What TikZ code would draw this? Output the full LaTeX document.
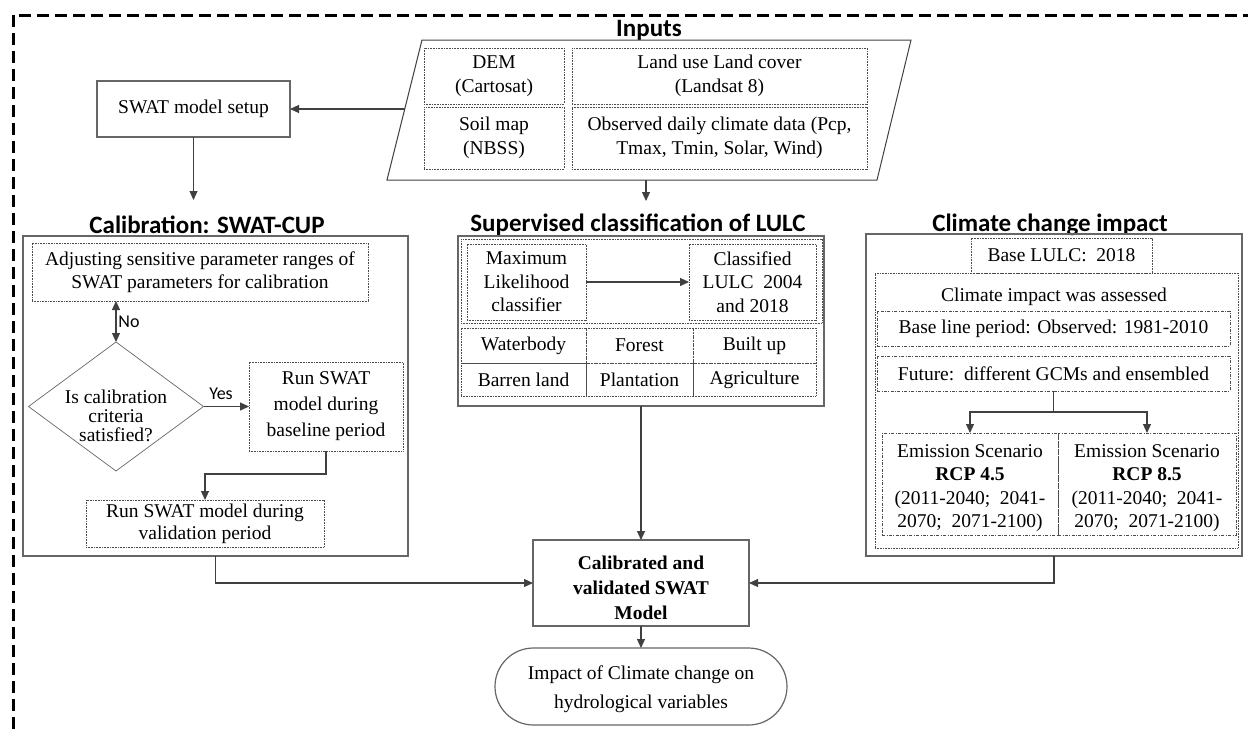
\documentclass[tikz,border=0pt]{standalone}
\usepackage{fontspec}
\setmainfont{Liberation Serif}
\newfontfamily\calfont{Carlito}
\usetikzlibrary{arrows.meta,shapes.geometric,shapes.misc,calc}
\begin{document}
\begin{tikzpicture}[x=1pt,y=-1pt,
 every node/.style={inner sep=0pt, outer sep=0pt},
 txt/.style={font=\fontsize{19.5}{23.5}\selectfont, align=center, text=black},
 obox/.style={draw=black!60, line width=1.2pt, txt},
 dbox/.style={draw=black!70, dash pattern=on 0.8pt off 0.8pt, line width=0.7pt, txt},
 ddbox/.style={draw=black!70, dash pattern=on 3pt off 1.5pt on 0.8pt off 1.5pt, line width=0.7pt, txt},
 ttl/.style={font=\calfont\bfseries\fontsize{25}{30}\selectfont, anchor=base},
 lbl/.style={font=\calfont\fontsize{18}{22}\selectfont},
 arr/.style={draw=black!75, line width=1.1pt, -{Triangle[length=9pt,width=8pt]}},
 ln/.style={draw=black!75, line width=1.1pt},
]
\useasboundingbox (0,0) rectangle (1248,729);
% outer dashed frame
\draw[line width=3pt, dash pattern=on 12pt off 6pt] (13,729) -- (13,15) -- (1248,15);

% Inputs
\node[ttl] (inttl) at (649,36) {Inputs};
\draw[draw=black!75, line width=1pt] (422,40) -- (911,40) -- (877,180) -- (387,180) -- cycle;
\coordinate (inL) at (404.75,109);
\coordinate (inB) at (646,180);
\node[dbox, minimum width=140, minimum height=56] (dem) at (494,76) {DEM\\(Cartosat)};
\node[dbox, minimum width=295, minimum height=56] (lulc) at (719.5,76) {Land use Land cover\\(Landsat 8)};
\node[dbox, minimum width=140, minimum height=62] (soil) at (494,138) {Soil map\\(NBSS)};
\node[dbox, minimum width=295, minimum height=62] (clim) at (719.5,138) {Observed daily climate data (Pcp,\\Tmax, Tmin, Solar, Wind)};

% SWAT setup
\node[obox, minimum width=193, minimum height=56] (setup) at (193.5,109) {SWAT model setup};
\draw[arr] (inL) -- (setup.east);
\coordinate (setupEnd) at (193.5,200);
\draw[arr] (setup.south) -- (setupEnd);

% Calibration
\node[ttl] (calttl) at (207,233) {Calibration: SWAT-CUP};
\node[obox, minimum width=385, minimum height=320] (calbox) at (215.5,396) {};
\node[dbox, minimum width=336, minimum height=58] (adj) at (200,272) {Adjusting sensitive parameter ranges of\\SWAT parameters for calibration};
\node[diamond, draw=black!60, line width=0.7pt, minimum width=175, minimum height=129] (dia) at (116,406.5) {};
\node[txt, font=\fontsize{19.5}{19}\selectfont] (diatxt) at (116,416) {Is calibration\\criteria\\satisfied?};
\node[dbox, minimum width=154, minimum height=89, font=\fontsize{19.5}{26}\selectfont] (base) at (326,406.5) {Run SWAT\\model during\\baseline period};
\node[dbox, minimum width=238, minimum height=47, font=\fontsize{19.5}{22}\selectfont] (val) at (205,523.5) {Run SWAT model during\\validation period};
\draw[draw=black!75, line width=1.1pt, {Triangle[length=9pt,width=8pt]}-{Triangle[length=9pt,width=8pt]}] (adj.south -| dia.north) -- (dia.north);
\node[lbl] (no) at (129,322) {No};
\draw[arr] (dia.east) -- (base.west);
\node[lbl] (yes) at (221,394) {Yes};
\draw[arr] (base.south) -- ++(0,23) -| (val.north);

% Supervised classification
\node[ttl] (supttl) at (638,231) {Supervised classification of LULC};
\draw[arr] (inB) -- (646,201);
\node[obox, minimum width=366, minimum height=170] (midbox) at (641,321) {};
\node[dbox, minimum width=361, minimum height=84] (grp) at (641.5,281) {};
\node[dbox, minimum width=119, minimum height=76] (mlc) at (526.5,282) {Maximum\\Likelihood\\classifier};
\node[dbox, minimum width=127, minimum height=76] (cls) at (752.5,282) {Classified\\LULC\ \ 2004\\and 2018};
\draw[arr] (mlc.east) -- (cls.west);
\node[dbox, minimum width=125, minimum height=35] (t11) at (523.5,345.5) {Waterbody};
\node[dbox, minimum width=107, minimum height=35] (t12) at (639.5,345.5) {Forest};
\node[dbox, minimum width=123, minimum height=35] (t13) at (754.5,345.5) {Built up};
\node[dbox, minimum width=125, minimum height=33] (t21) at (523.5,379.5) {Barren land};
\node[dbox, minimum width=107, minimum height=33] (t22) at (639.5,379.5) {Plantation};
\node[dbox, minimum width=123, minimum height=33] (t23) at (754.5,379.5) {Agriculture};

% Climate change impact
\node[ttl] (climttl) at (1050,231) {Climate change impact};
\node[obox, minimum width=376, minimum height=322] (climbox) at (1054,395) {};
\node[dbox, minimum width=363, minimum height=275] (impbox) at (1056.5,410.5) {};
\node[dbox, minimum width=181, minimum height=35, fill=white] (baselulc) at (1061.5,255.5) {Base LULC:\ \ 2018};
\node[txt] (imptxt) at (1054,297) {Climate impact was assessed};
\node[ddbox, minimum width=353, minimum height=35] (blp) at (1053.5,328.5) {Base line period: Observed: 1981-2010};
\node[ddbox, minimum width=353, minimum height=35] (fut) at (1053.5,373.5) {Future:\ \ different GCMs and ensembled};
\node[ddbox, minimum width=176, minimum height=102] (em45) at (970,484) {};
\node[txt] (em45t) at (970,488) {Emission Scenario\\\textbf{RCP 4.5}\\(2011-2040;\ \ 2041-\\2070;\ \ 2071-2100)};
\node[ddbox, minimum width=178, minimum height=102] (em85) at (1147,484) {};
\node[txt] (em85t) at (1147,488) {Emission Scenario\\\textbf{RCP 8.5}\\(2011-2040;\ \ 2041-\\2070;\ \ 2071-2100)};
\draw[ln] (fut.south) -- ++(0,21) coordinate (fork);
\draw[arr] (fork) -| (em45.north);
\draw[arr] (fork) -| (em85.north);

% Calibrated model and impact
\node[obox, minimum width=216, minimum height=86] (cal) at (641,583) {};
\node[txt, font=\bfseries\fontsize{19.5}{25}\selectfont] (caltxt) at (641,588) {Calibrated and\\validated SWAT\\Model};
\node[rounded rectangle, draw=black!60, line width=1.2pt, minimum width=292, minimum height=77] (term) at (641,686.5) {};
\node[txt, font=\fontsize{19.5}{29}\selectfont] (termtxt) at (641,689) {Impact of Climate change on\\hydrological variables};
\draw[arr] (midbox.south) -- (cal.north);
\draw[arr] (calbox.south) |- (cal.west);
\draw[arr] (climbox.south) |- (cal.east);
\draw[arr] (cal.south) -- (term.north);
\end{tikzpicture}
\end{document}
